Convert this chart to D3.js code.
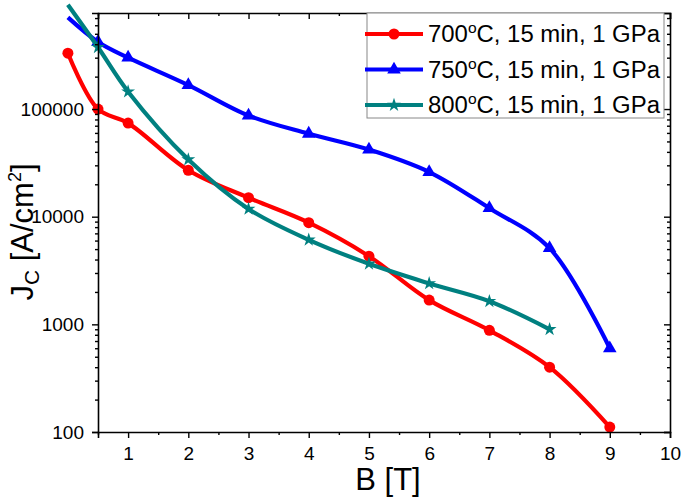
<!DOCTYPE html>
<html><head><meta charset="utf-8">
<script src="https://cdn.jsdelivr.net/npm/d3@7"></script>
<style>
html,body{margin:0;padding:0;background:#fff;}
svg{display:block;font-family:"Liberation Sans",Arial,sans-serif;}
</style></head>
<body><svg id="c" width="685" height="498"></svg>
<script>
// ---- data ----
const fieldB = [0, 0.5, 1, 2, 3, 4, 5, 6, 7, 8, 9];
const jc700 = [330000, 100000, 74000, 27000, 15000, 8800, 4300, 1680, 880, 400, 111];
const jc750 = [710000, 420000, 300000, 167000, 87000, 59000, 42000, 26000, 12000, 5100, 600];
const fieldB800 = [0, 0.5, 1, 2, 3, 4, 5, 6, 7, 8];
const jc800 = [930000, 375000, 145000, 34000, 11800, 6100, 3650, 2400, 1640, 900];
const seriesNames = ["700", "750", "800"];
const xTicks = [1, 2, 3, 4, 5, 6, 7, 8, 9, 10];
const yTicks = [100, 1000, 10000, 100000];

const series = [
  {name: seriesNames[0], xs: fieldB, ys: jc700, color: "#ff0000", sym: d3.symbolCircle, size: 95, markFrom: 0},
  {name: seriesNames[1], xs: fieldB, ys: jc750, color: "#0000ff", sym: d3.symbolTriangle, size: 80, markFrom: 1},
  {name: seriesNames[2], xs: fieldB800, ys: jc800, color: "#008080", sym: d3.symbolStar, size: 60, markFrom: 1}
];

const L = 98, R = 670, T = 13, Bt = 432;
const svg = d3.select("#c");
const x = d3.scaleLinear().domain([0.5, 10]).range([L, R]);
const y = d3.scaleLog().domain([100, 780000]).range([Bt, T]);

const minorY = [];
[100, 1000, 10000, 100000].forEach(d => { for (let k = 2; k <= 9; k++) if (d * k <= 780000) minorY.push(d * k); });
const minorX = d3.range(0.5, 10, 1);

function styleAxis(g) {
  g.select(".domain").attr("stroke", "#000").attr("stroke-width", 1.6);
  g.selectAll(".tick line").attr("stroke", "#000").attr("stroke-width", 1.4);
  g.selectAll("text").attr("font-size", 19).attr("fill", "#000").attr("font-family", "'Liberation Sans',Arial,sans-serif");
}

// series lines
const line = d3.line().curve(d3.curveCatmullRom.alpha(0.5));
series.forEach(s => {
  const pts = s.xs.map((b, i) => [x(b), y(s.ys[i])]);
  svg.append("path").attr("d", line(pts)).attr("fill", "none")
    .attr("stroke", s.color).attr("stroke-width", 4.2).attr("stroke-linejoin", "round");
  svg.append("g").selectAll("path").data(pts.slice(s.markFrom)).join("path")
    .attr("transform", p => `translate(${p[0]},${p[1]})`)
    .attr("d", d3.symbol().type(s.sym).size(s.size)).attr("fill", s.color);
});

// axes
const gB = svg.append("g").attr("transform", `translate(0,${Bt})`)
  .call(d3.axisBottom(x).tickValues(xTicks).tickSize(6).tickPadding(9).tickFormat(d3.format("d")));
styleAxis(gB);
const gBm = svg.append("g").attr("transform", `translate(0,${Bt})`)
  .call(d3.axisBottom(x).tickValues(minorX).tickSize(3).tickFormat(""));
styleAxis(gBm); gBm.select(".domain").remove();

const gT = svg.append("g").attr("transform", `translate(0,${T})`)
  .call(d3.axisBottom(x).tickValues(xTicks).tickSize(6).tickFormat(""));
styleAxis(gT);
const gTm = svg.append("g").attr("transform", `translate(0,${T})`)
  .call(d3.axisBottom(x).tickValues(minorX).tickSize(3).tickFormat(""));
styleAxis(gTm); gTm.select(".domain").remove();

const gL = svg.append("g").attr("transform", `translate(${L},0)`)
  .call(d3.axisLeft(y).tickValues(yTicks).tickSize(6).tickPadding(8).tickFormat(d3.format("d")));
styleAxis(gL);
const gLm = svg.append("g").attr("transform", `translate(${L},0)`)
  .call(d3.axisLeft(y).tickValues(minorY).tickSize(3).tickFormat(""));
styleAxis(gLm); gLm.select(".domain").remove();

const gR = svg.append("g").attr("transform", `translate(${R},0)`)
  .call(d3.axisLeft(y).tickValues(yTicks).tickSize(6).tickFormat(""));
styleAxis(gR);
const gRm = svg.append("g").attr("transform", `translate(${R},0)`)
  .call(d3.axisLeft(y).tickValues(minorY).tickSize(3).tickFormat(""));
styleAxis(gRm); gRm.select(".domain").remove();

// axis titles
svg.append("text").attr("x", 388).attr("y", 490).attr("text-anchor", "middle")
  .attr("font-size", 31).text("B [T]");
const yl = svg.append("text").attr("transform", "translate(33,232) rotate(-90)")
  .attr("text-anchor", "middle").attr("font-size", 31);
yl.append("tspan").text("J");
yl.append("tspan").attr("font-size", 21).attr("dy", 6).text("C");
yl.append("tspan").attr("dy", -6).text(" [A/cm");
yl.append("tspan").attr("font-size", 18).attr("dy", -12).text("2");
yl.append("tspan").attr("dy", 12).text("]");

// legend
svg.append("rect").attr("x", 367).attr("y", T).attr("width", 297).attr("height", 105)
  .attr("fill", "#fff").attr("stroke", "#888").attr("stroke-width", 1);
series.forEach((s, i) => {
  const cy = 34 + i * 35.5;
  svg.append("line").attr("x1", 365).attr("x2", 423).attr("y1", cy).attr("y2", cy)
    .attr("stroke", s.color).attr("stroke-width", 4.2);
  svg.append("path").attr("transform", `translate(394,${cy})`)
    .attr("d", d3.symbol().type(s.sym).size(s.size)).attr("fill", s.color);
  const t = svg.append("text").attr("x", 428).attr("y", cy + 8).attr("font-size", 23)
    .attr("textLength", 232).attr("lengthAdjust", "spacingAndGlyphs");
  t.append("tspan").text(s.name);
  t.append("tspan").attr("font-size", 15).attr("dy", -9).text("o");
  t.append("tspan").attr("dy", 9).text("C, 15 min, 1 GPa");
});
</script></body></html>
